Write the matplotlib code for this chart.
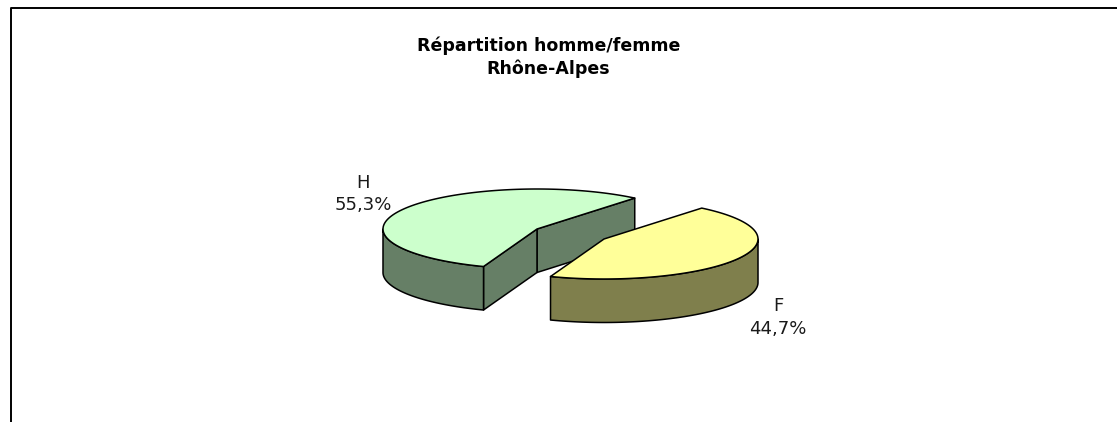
import numpy as np
import matplotlib
matplotlib.use("Agg")
import matplotlib.pyplot as plt
from matplotlib.patches import Polygon

title = "Répartition homme/femme\nRhône-Alpes"
categories = ["H", "F"]
shares = [55.3, 44.7]
labels = ["55,3%", "44,7%"]

top_colors = ["#CCFFCC", "#FFFF99"]
side_colors = ["#667F66", "#7F7F4C"]

W, H = 1117, 422
rx, ry, depth = 154, 40, 43.5
start = 50.6
apex = [(537, 229), (604, 239)]
label_pos = [(363, 194), (778, 317.5)]

fig = plt.figure(figsize=(W / 100, H / 100), dpi=100)
ax = fig.add_axes([0, 0, 1, 1])
ax.set_xlim(0, W)
ax.set_ylim(H, 0)
ax.axis("off")


def arc(cx, cy, a, b):
    t = np.radians(np.linspace(a, b, 120))
    return np.column_stack([cx + rx * np.cos(t), cy - ry * np.sin(t)])


def poly(pts, color, z):
    ax.add_patch(Polygon(pts, closed=True, fc=color, ec="black", lw=1.1, joinstyle="round", zorder=z))


# chart frame, the crop cuts off its right and bottom sides
ax.plot([10.5, 10.5, W], [H, 7.5, 7.5], color="black", lw=1.4, zorder=1)

angle = start
for i, share in enumerate(shares):
    end = angle + share * 3.6
    cx, cy = apex[i]
    z = 2 + i * 3
    top = arc(cx, cy, angle, end)
    drop = np.array([0, depth])

    # cut faces, only the ones that look towards the viewer
    if i == 0:
        poly([(cx, cy), top[0], top[0] + drop, (cx, cy + depth)], side_colors[i], z)
        poly([(cx, cy), top[-1], top[-1] + drop, (cx, cy + depth)], side_colors[i], z)

    # outer rim, lower half of the ellipse only
    lo = max(angle, 180)
    hi = min(end, 360)
    rim = arc(cx, cy, lo, hi)
    poly(np.vstack([rim, (rim + drop)[::-1]]), side_colors[i], z + 1)

    poly(np.vstack([[(cx, cy)], top]), top_colors[i], z + 2)

    lx, ly = label_pos[i]
    ax.text(lx, ly, categories[i] + "\n" + labels[i], ha="center", va="center", fontsize=13,
            family="DejaVu Sans", color="#1a1a1a", linespacing=1.3, zorder=10)
    angle = end

ax.text(548.5, 57.5, title, ha="center", va="center", fontsize=12.5, fontweight="bold",
        family="DejaVu Sans", color="black", linespacing=1.3)

fig.savefig("out.png", dpi=100, facecolor="white")
